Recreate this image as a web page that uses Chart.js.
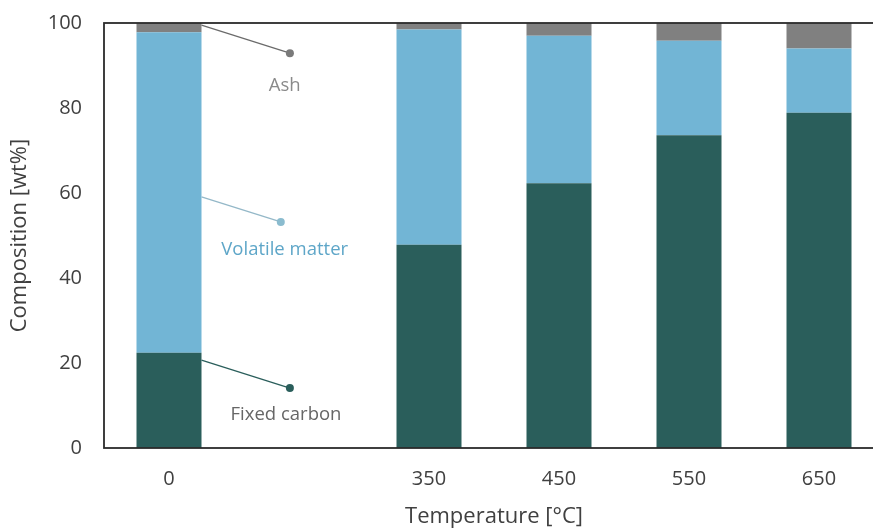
<!DOCTYPE html>
<html>
<head>
<meta charset="utf-8">
<script src="https://cdn.jsdelivr.net/npm/chart.js@4/dist/chart.umd.min.js"></script>
<style>
  html, body { margin: 0; padding: 0; background: #ffffff; overflow: hidden; }
  #wrap { width: 885px; height: 530px; }
</style>
</head>
<body>
<div id="wrap"><canvas id="c" width="885" height="530"></canvas></div>
<script>
// Temperature categories (the empty slot separates the raw feedstock from the chars)
const categories = ['0', '', '350', '450', '550', '650'];

// Proximate analysis, wt%
const fixedCarbon    = [22.4, null, 47.8, 62.3, 73.6, 78.9];
const volatileMatter = [75.4, null, 50.7, 34.7, 22.2, 15.1];
const ash            = [2.2,  null, 1.5,  3.0,  4.2,  6.0];

const yTicks = [0, 20, 40, 60, 80, 100];

const COLORS = {
  fixed: '#2a5e5b',
  volatile: '#72b5d5',
  ash: '#808080'
};

// Callout labels for the first bar: start (on bar edge), dot end, text position (category index, wt%)
const callouts = [
  { text: 'Ash',             start: [0, 99.5], end: [0.93, 92.9], label: [0.89, 85.3], line: '#6b6b6b', dot: '#7a7a7a', color: '#8a8a8a' },
  { text: 'Volatile matter', start: [0, 59.1], end: [0.86, 53.2], label: [0.89, 46.6], line: '#94b8c8', dot: '#8bbccf', color: '#5ea6c8' },
  { text: 'Fixed carbon',    start: [0, 20.7], end: [0.93, 14.1], label: [0.90, 7.8],  line: '#2a5e5b', dot: '#2a5e5b', color: '#666666' }
];

const FONT = "'Open Sans', 'Noto Sans', sans-serif";

const framePlugin = {
  id: 'frame',
  afterDatasetsDraw(chart) {
    const { ctx, chartArea: a } = chart;
    ctx.save();
    ctx.strokeStyle = '#2b2b2b';
    ctx.lineWidth = 1.8;
    ctx.strokeRect(a.left, a.top, a.right - a.left, a.bottom - a.top);
    ctx.restore();
  }
};

const calloutPlugin = {
  id: 'callouts',
  afterDatasetsDraw(chart) {
    const { ctx } = chart;
    const xs = chart.scales.x, ys = chart.scales.y;
    const bar = chart.getDatasetMeta(0).data[0];
    const barRight = bar.x + bar.width / 2;
    ctx.save();
    callouts.forEach(c => {
      const x0 = barRight;
      const y0 = ys.getPixelForValue(c.start[1]);
      const x1 = xs.getPixelForValue(c.end[0]);
      const y1 = ys.getPixelForValue(c.end[1]);
      ctx.strokeStyle = c.line;
      ctx.lineWidth = 1.3;
      ctx.beginPath();
      ctx.moveTo(x0, y0);
      ctx.lineTo(x1, y1);
      ctx.stroke();
      ctx.fillStyle = c.dot;
      ctx.beginPath();
      ctx.arc(x1, y1, 4, 0, Math.PI * 2);
      ctx.fill();
      ctx.fillStyle = c.color;
      ctx.font = '18.5px ' + FONT;
      ctx.textAlign = 'center';
      ctx.textBaseline = 'middle';
      ctx.fillText(c.text, xs.getPixelForValue(c.label[0]), ys.getPixelForValue(c.label[1]));
    });
    ctx.restore();
  }
};

new Chart(document.getElementById('c'), {
  type: 'bar',
  data: {
    labels: categories,
    datasets: [
      { label: 'Fixed carbon', data: fixedCarbon, backgroundColor: COLORS.fixed },
      { label: 'Volatile matter', data: volatileMatter, backgroundColor: COLORS.volatile },
      { label: 'Ash', data: ash, backgroundColor: COLORS.ash }
    ]
  },
  options: {
    responsive: false,
    animation: false,
    devicePixelRatio: 1,
    layout: { padding: { top: 23, right: 1, left: 0, bottom: 0 } },
    datasets: { bar: { categoryPercentage: 1, barPercentage: 0.5, borderWidth: 0 } },
    plugins: { legend: { display: false }, tooltip: { enabled: false } },
    scales: {
      x: {
        stacked: true,
        grid: { display: false, drawTicks: false },
        border: { display: false },
        ticks: { color: '#404040', font: { family: FONT, size: 20 }, padding: 19, maxRotation: 0, autoSkip: false },
        title: { display: true, text: 'Temperature [°C]', color: '#404040', font: { family: FONT, size: 22 }, padding: { top: 0, bottom: 0 } },
        afterFit(s) { s.height = 82; s.paddingLeft = 0; s.paddingRight = 0; }
      },
      y: {
        stacked: true,
        min: 0,
        max: 100,
        grid: { display: false, drawTicks: false },
        border: { display: false },
        afterBuildTicks(s) { s.ticks = yTicks.map(v => ({ value: v })); },
        ticks: { color: '#404040', font: { family: FONT, size: 20 }, padding: 22 },
        title: { display: true, text: 'Composition [wt%]', color: '#404040', font: { family: FONT, size: 22 }, padding: { top: 7, bottom: 0 } },
        afterFit(s) { s.width = 104; s.paddingTop = 0; s.paddingBottom = 0; }
      }
    }
  },
  plugins: [framePlugin, calloutPlugin]
});
</script>
</body>
</html>
